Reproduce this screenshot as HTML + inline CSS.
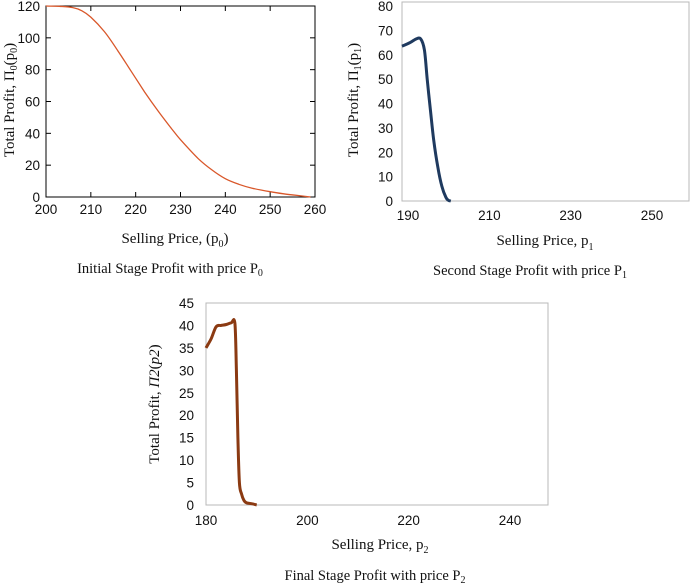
<!DOCTYPE html>
<html><head><meta charset="utf-8"><style>
body{margin:0;background:#fff;width:690px;height:585px;overflow:hidden}
svg{position:absolute;left:0;top:0}
.t{font-family:"Liberation Sans",sans-serif;font-size:13.5px;fill:#111}
.s{font-family:"Liberation Serif",serif;font-size:15px;fill:#111}
.c{font-family:"Liberation Serif",serif;font-size:14.5px;fill:#111}
</style></head><body>
<svg width="690" height="585" id="svg">
<g id="c1"></g>
<g id="c2"></g>
<g id="c3"></g>
<text class="s" x="175" y="243" text-anchor="middle">Selling Price, (p<tspan font-size="10" dy="4">0</tspan><tspan dy="-4">)</tspan></text>
<text class="c" x="170" y="273" text-anchor="middle">Initial Stage Profit with price P<tspan font-size="10" dy="3">0</tspan></text>
<text class="s" transform="translate(14,100) rotate(-90)" text-anchor="middle">Total Profit, Π<tspan font-size="10" dy="3">0</tspan><tspan dy="-3">(p</tspan><tspan font-size="10" dy="3">0</tspan><tspan dy="-3">)</tspan></text>
<text class="s" x="545" y="245" text-anchor="middle">Selling Price, p<tspan font-size="10" dy="5">1</tspan></text>
<text class="c" x="530" y="275" text-anchor="middle">Second Stage Profit with price P<tspan font-size="10" dy="3">1</tspan></text>
<text class="s" transform="translate(358,100) rotate(-90)" text-anchor="middle">Total Profit, Π<tspan font-size="10" dy="3">1</tspan><tspan dy="-3">(p</tspan><tspan font-size="10" dy="3">1</tspan><tspan dy="-3">)</tspan></text>
<text class="s" x="380" y="549" text-anchor="middle">Selling Price, p<tspan font-size="10" dy="4">2</tspan></text>
<text class="c" x="375" y="580" text-anchor="middle">Final Stage Profit with price P<tspan font-size="10" dy="3">2</tspan></text>
<text class="s" transform="translate(159,404) rotate(-90)" text-anchor="middle">Total Profit, <tspan font-style="italic">Π2</tspan>(<tspan font-style="italic">p2</tspan>)</text>
</svg>
<script>
const x1Vals=[200,203,206,208,210,213,216,219,222,225,228,230,234,237,240,243,246,250,253,256,259];
const y1Vals=[120,119.8,119,117,113,104,92,79,66,54,43,36,24,17,11.5,8,5.5,3.3,2,1,0];
const x1Ticks=[200,210,220,230,240,250,260];
const y1Ticks=[0,20,40,60,80,100,120];
const x2Vals=[190,192,193.5,194.6,195.5,196.2,197,197.8,198.8,199.8,200.8,201.4,202];
const y2Vals=[63.5,65,66.5,66.5,62,50,37,25,14,6,1.5,0.3,0];
const x2Ticks=[190,210,230,250];
const y2Ticks=[0,10,20,30,40,50,60,70,80];
const x3Vals=[180,181,182,183,184,185,185.7,186,186.3,186.6,187,187.5,188,189,190];
const y3Vals=[35,37,39.7,40,40.2,40.6,40.5,30,15,5,2.5,1,0.5,0.3,0];
const x3Ticks=[180,200,220,240];
const y3Ticks=[0,5,10,15,20,25,30,35,40,45];
const NS='http://www.w3.org/2000/svg';
function mk(p,tag,at){const e=document.createElementNS(NS,tag);for(const k in at)e.setAttribute(k,at[k]);p.appendChild(e);return e;}
function smooth(P){let d='M'+P[0][0].toFixed(1)+','+P[0][1].toFixed(1);
  for(let i=0;i<P.length-1;i++){const p0=P[i-1]||P[i],p1=P[i],p2=P[i+1],p3=P[i+2]||p2;
    const c1=[p1[0]+(p2[0]-p0[0])/6,p1[1]+(p2[1]-p0[1])/6],c2=[p2[0]-(p3[0]-p1[0])/6,p2[1]-(p3[1]-p1[1])/6];
    d+='C'+c1.map(v=>v.toFixed(1))+' '+c2.map(v=>v.toFixed(1))+' '+p2.map(v=>v.toFixed(1));}
  return d;}
function chart(g,o){
  const sx=v=>o.x0+(v-o.xa)*(o.x1-o.x0)/(o.xb-o.xa);
  const sy=v=>o.y0+(v-o.ya)*(o.y1-o.y0)/(o.yb-o.ya);
  const fr=mk(g,'rect',{x:o.L,y:o.T,width:o.R-o.L,height:o.B-o.T,fill:'none',stroke:o.fc,'stroke-width':1});
  
  
  o.xt.forEach(v=>{const t=mk(g,'text',{x:sx(v)+o.lx,y:o.B+o.xo,'text-anchor':'middle',class:'t'});t.textContent=v;
    
    
    if(o.inner){const l=mk(g,'line',{x1:sx(v),x2:sx(v),y1:o.B,y2:o.B-5,stroke:'#000'});
      const l2=mk(g,'line',{x1:sx(v),x2:sx(v),y1:o.T,y2:o.T+5,stroke:'#000'});}});
  o.yt.forEach(v=>{const t=mk(g,'text',{x:o.L-o.yo,y:sy(v)+5,'text-anchor':'end',class:'t'});t.textContent=v;
    
    
    if(o.inner){const l=mk(g,'line',{x1:o.L,x2:o.L+5,y1:sy(v),y2:sy(v),stroke:'#000'});
      const l2=mk(g,'line',{x1:o.R,x2:o.R-5,y1:sy(v),y2:sy(v),stroke:'#000'});}});
  const pts=o.xs.map((v,i)=>[sx(v),sy(o.ys[i])]);
  const p=mk(g,'path',{d:smooth(pts),fill:'none',stroke:o.col,'stroke-width':o.w,'stroke-linejoin':'round'});
  
  
}
chart(document.getElementById('c1'),{xa:200,xb:260,x0:46,x1:315,ya:0,yb:120,y0:197,y1:6,L:46,R:315,T:6,B:197,fc:'#000',inner:true,xt:x1Ticks,yt:y1Ticks,xs:x1Vals,ys:y1Vals,col:'#d9572a',w:1.3,xo:17,yo:6,lx:0});
chart(document.getElementById('c2'),{xa:190,xb:250,x0:402,x1:646,ya:0,yb:80,y0:201,y1:6,L:402,R:689,T:2,B:201,fc:'#b8b8b8',inner:false,xt:x2Ticks,yt:y2Ticks,xs:x2Vals,ys:y2Vals,col:'#1f3a5f',w:3,xo:19,yo:9,lx:6});
chart(document.getElementById('c3'),{xa:180,xb:240,x0:206,x1:510,ya:0,yb:45,y0:505,y1:303,L:206,R:548,T:303,B:505,fc:'#b8b8b8',inner:false,xt:x3Ticks,yt:y3Ticks,xs:x3Vals,ys:y3Vals,col:'#8b3a12',w:3,xo:20,yo:12,lx:0});
</script>
</body></html>
